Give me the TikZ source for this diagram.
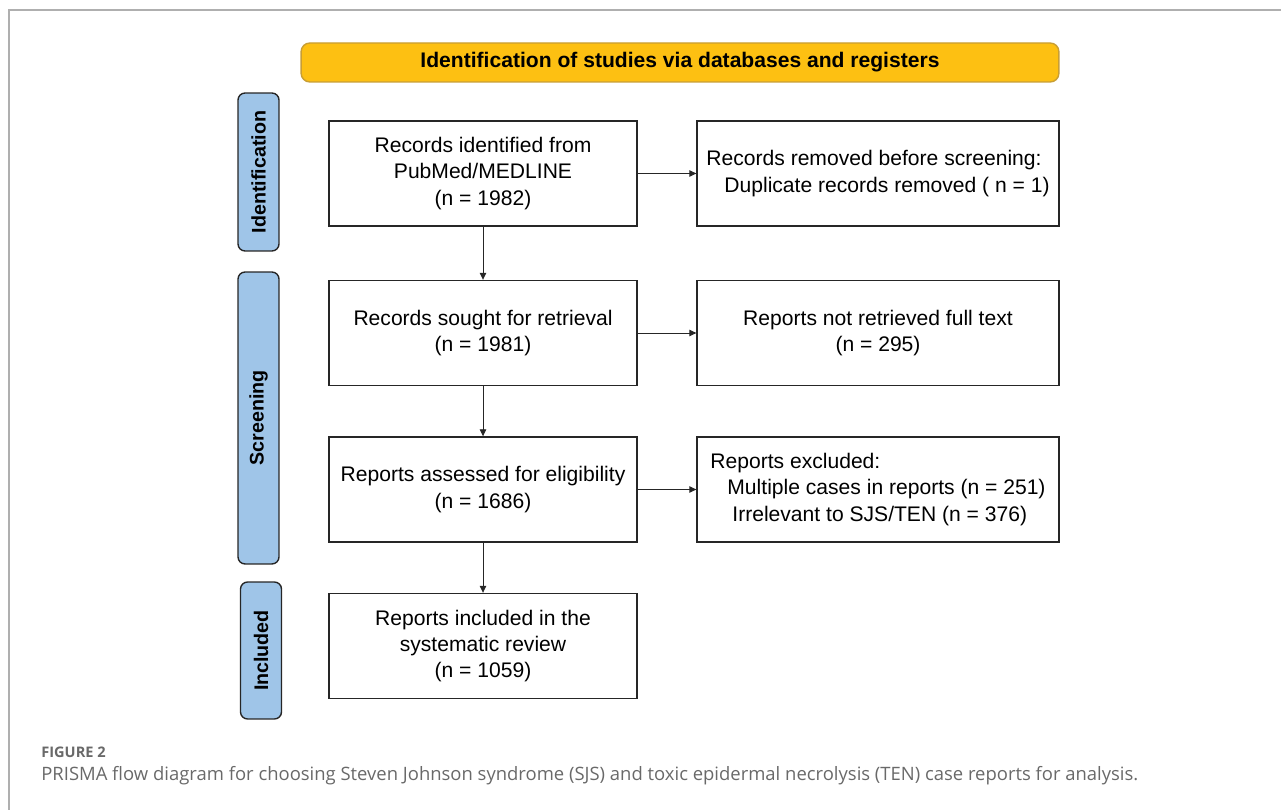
\documentclass[tikz,border=0pt]{standalone}
\usepackage{fontspec}
\setmainfont{Liberation Sans}
\newfontfamily\captionfont{Open Sans}
\usetikzlibrary{positioning,arrows.meta,calc}
\definecolor{HeaderGold}{RGB}{253,192,18}
\definecolor{HeaderEdge}{RGB}{200,158,52}
\definecolor{StageBlue}{RGB}{159,197,232}
\definecolor{BoxEdge}{RGB}{38,38,38}
\definecolor{FrameGray}{RGB}{175,175,175}
\definecolor{CaptionGray}{RGB}{105,105,105}
\tikzset{
    flowbox/.style={draw=BoxEdge,line width=0.8pt,minimum width=6.16cm,minimum height=2.1cm,
        align=center,inner sep=0pt,font=\fontsize{12}{15}\selectfont},
    sidebox/.style={flowbox,minimum width=7.24cm},
    stagebox/.style={draw=BoxEdge,fill=StageBlue,rounded corners=4pt,line width=0.8pt,rotate=90,
        minimum height=0.82cm,inner sep=0pt,font=\bfseries\fontsize{11.2}{13}\selectfont},
    flowarrow/.style={-{Triangle[length=1.4mm,width=1.3mm]},line width=0.5pt,draw=BoxEdge}
}

\begin{document}
\begin{tikzpicture}[x=0.02cm,y=-0.02cm]
    \useasboundingbox (0,0) rectangle (1281,810);
    % figure frame
    \draw[FrameGray,line width=0.6pt] (9,810)--(9,10)--(1281,10);
    % header
    \node[draw=HeaderEdge,fill=HeaderGold,rounded corners=5pt,line width=0.8pt,minimum width=15.16cm,
        minimum height=0.78cm,font=\bfseries\fontsize{12}{14}\selectfont] (head) at (680,62.5)
        {Identification of studies via databases and registers};
    % stages
    \node[stagebox,minimum width=3.16cm] (ident) at (258.5,172) {Identification};
    \node[stagebox,minimum width=5.84cm] (screen) at (258.5,418) {Screening};
    \node[stagebox,minimum width=2.74cm] (incl) at (261,650.5) {Included};
    % main column
    \node[flowbox] (found) at (483,173.5) {Records identified from\\PubMed/MEDLINE\\(n = 1982)};
    \node[flowbox] (sought) at (483,333) {Records sought for retrieval\\(n = 1981)};
    \node[flowbox] (assessed) at (483,489.5) {Reports assessed for eligibility\\(n = 1686)};
    \node[flowbox] (included) at (483,646) {Reports included in the\\systematic review\\(n = 1059)};
    % side column
    \node[sidebox,align=left] (removed) at (878,173.5)
        {Records removed before screening:\\\hspace*{0.36cm}Duplicate records removed ( n = 1)};
    \node[sidebox] (notret) at (878,333) {Reports not retrieved full text\\(n = 295)};
    \node[sidebox,align=left] (excluded) at (878,489.5)
        {Reports excluded:\\\hspace*{0.34cm}Multiple cases in reports (n = 251)\\\hspace*{0.44cm}Irrelevant to SJS/TEN (n = 376)};
    % connectors
    \draw[flowarrow] (found)--(sought);
    \draw[flowarrow] (sought)--(assessed);
    \draw[flowarrow] (assessed)--(included);
    \draw[flowarrow] (found)--(removed);
    \draw[flowarrow] (sought)--(notret);
    \draw[flowarrow] (assessed)--(excluded);
    % caption
    \node[anchor=west,inner sep=0pt,text=CaptionGray,font=\captionfont\bfseries\fontsize{8.3}{10}\selectfont] (fig) at (41,752) {FIGURE 2};
    \node[anchor=west,inner sep=0pt,text=CaptionGray,font=\captionfont\fontsize{10.5}{13}\selectfont] (cap) at (41,776)
        {PRISMA flow diagram for choosing Steven Johnson syndrome (SJS) and toxic epidermal necrolysis (TEN) case reports for analysis.};
\end{tikzpicture}
\end{document}
